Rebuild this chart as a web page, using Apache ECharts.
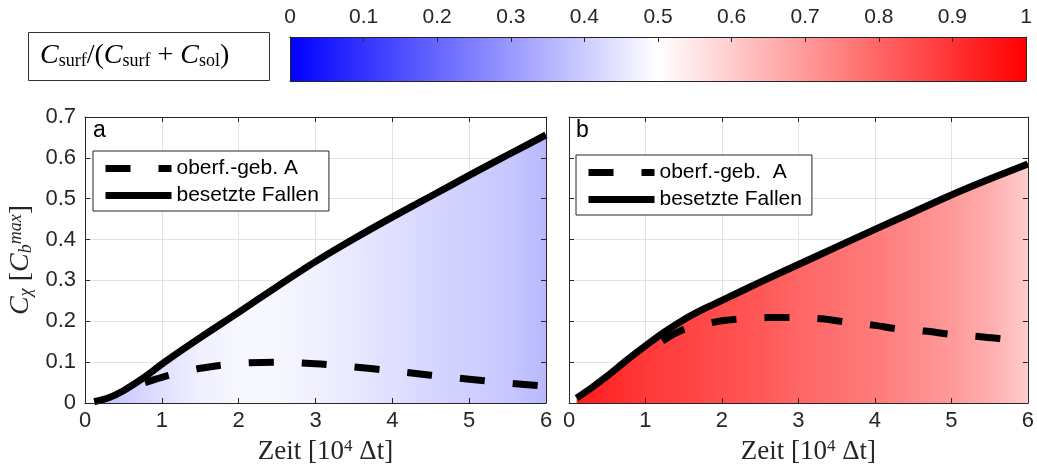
<!DOCTYPE html>
<html>
<head>
<meta charset="utf-8">
<script src="https://cdn.jsdelivr.net/npm/echarts@6/dist/echarts.min.js"></script>
<style>
  html, body { margin: 0; padding: 0; background: #fff; }
  #chart { width: 1037px; height: 470px; }
</style>
</head>
<body>
<div id="chart"></div>
<script>
// ---- data -------------------------------------------------------------
// Panel a: concentrations over time [10^4 Δt]
const aTrapped = [[0.12,0.003],[0.3,0.012],[0.5,0.03],[0.75,0.06],[1.0,0.095],[1.25,0.128],[1.5,0.16],[1.75,0.191],[2.0,0.222],[2.5,0.285],[3.0,0.346],[3.5,0.402],[4.0,0.455],[4.5,0.506],[5.0,0.557],[5.5,0.607],[6.0,0.656]];
const aSurface = [[0.78,0.05],[1.0,0.063],[1.25,0.075],[1.5,0.085],[1.75,0.092],[2.0,0.097],[2.5,0.1],[3.0,0.096],[3.5,0.088],[4.0,0.079],[4.5,0.068],[5.0,0.058],[5.5,0.049],[6.0,0.041]];
// Panel b
const bTrapped = [[0.1,0.012],[0.3,0.038],[0.5,0.066],[0.75,0.104],[1.0,0.14],[1.25,0.174],[1.5,0.204],[1.75,0.229],[2.0,0.251],[2.5,0.296],[3.0,0.339],[3.5,0.382],[4.0,0.425],[4.5,0.467],[5.0,0.509],[5.5,0.548],[6.0,0.585]];
const bSurface = [[1.22,0.152],[1.5,0.18],[1.9,0.198],[2.2,0.205],[2.6,0.209],[2.9,0.209],[3.3,0.206],[3.6,0.199],[4.0,0.19],[4.3,0.181],[4.65,0.176],[5.0,0.168],[5.35,0.163],[5.7,0.156],[6.0,0.152]];
// Surface fraction C_surf/(C_surf + C_sol) along time, used to colour the filled area
const ratioX = [0.1,0.5,1,1.5,2,2.5,3,3.5,4,4.5,5,5.5,6];
const aRatio = [0.36,0.40,0.44,0.47,0.485,0.485,0.47,0.455,0.44,0.42,0.405,0.39,0.36];
const bRatio = [0.95,0.92,0.89,0.87,0.85,0.83,0.80,0.78,0.76,0.73,0.70,0.66,0.60];
// Colour bar range and colour stops (blue - white - red)
const colorbarRange = [[0, 1]];
const colorbarStops = [0, 0.5, 1];
const seriesNamesA = ['oberf.-geb. A', 'besetzte Fallen'];
const seriesNamesB = ['oberf.-geb.  A', 'besetzte Fallen'];

// ---- styling helpers ---------------------------------------------------
const SANS = 'Liberation Sans, Arial, Helvetica, sans-serif';
const SERIF = 'Liberation Serif, DejaVu Serif, Times New Roman, serif';
const AXIS = '#262626';
const GRIDC = '#e2e2e2';

function bwr(r) {
  r = Math.max(0, Math.min(1, r));
  if (r <= 0.5) {
    const c = Math.round(510 * r);
    return 'rgb(' + c + ',' + c + ',255)';
  }
  const c = Math.round(510 * (1 - r));
  return 'rgb(255,' + c + ',' + c + ')';
}

function areaGradient(line, xs, rs) {
  const x0 = line[0][0], x1 = line[line.length - 1][0];
  const stops = xs.map((x, i) => ({
    offset: Math.max(0, Math.min(1, (x - x0) / (x1 - x0))),
    color: bwr(rs[i])
  }));
  return new echarts.graphic.LinearGradient(0, 0, 1, 0, stops);
}

const tickLabel = { fontSize: 22, color: AXIS, fontFamily: SANS };
const boxLine = { show: true, onZero: false, lineStyle: { color: AXIS, width: 1 } };
const inTick = { show: true, inside: true, length: 5, lineStyle: { color: AXIS, width: 1 } };

const xNameRich = {
  n: { fontFamily: SERIF, fontSize: 27, color: AXIS },
  sup: { fontFamily: SERIF, fontSize: 17, color: AXIS, verticalAlign: 'top', padding: [0, 0, 10, 0] }
};

function xAxesFor(gi) {
  return [
    { gridIndex: gi, type: 'value', min: 0, max: 6, interval: 1, position: 'bottom', z: 5,
      axisLine: boxLine, axisTick: inTick,
      axisLabel: Object.assign({ margin: 7 }, tickLabel),
      splitLine: { show: false },
      name: '{n|Zeit [10}{sup|4}{n| Δt]}', nameLocation: 'middle', nameGap: 35,
      nameTextStyle: { rich: xNameRich, padding: [0, 0, 0, 20] } },
    { gridIndex: gi, type: 'value', min: 0, max: 6, interval: 1, position: 'top', z: 0,
      axisLine: boxLine, axisTick: inTick, axisLabel: { show: false },
      splitLine: { show: true, lineStyle: { color: GRIDC, width: 1 } } }
  ];
}

function yAxesFor(gi, labels) {
  const left = { gridIndex: gi, type: 'value', min: 0, max: 0.7, interval: 0.1, position: 'left', z: 5,
    axisLine: boxLine, axisTick: inTick,
    axisLabel: Object.assign({ show: labels, margin: 9 }, tickLabel),
    splitLine: { show: false } };
  if (labels) {
    left.name = '{i|C}{s|χ}{n| [}{i|C}{s|b}{p|max}{n|]}';
    left.nameLocation = 'middle';
    left.nameGap = 50;
    left.nameRotate = 90;
    left.nameTextStyle = {
      rich: {
        i: { fontFamily: SERIF, fontStyle: 'italic', fontSize: 28, color: AXIS },
        n: { fontFamily: SERIF, fontSize: 28, color: AXIS },
        s: { fontFamily: SERIF, fontStyle: 'italic', fontSize: 18, color: AXIS, verticalAlign: 'bottom', padding: [10, 0, 0, 0] },
        p: { fontFamily: SERIF, fontStyle: 'italic', fontSize: 18, color: AXIS, verticalAlign: 'top', padding: [0, 0, 10, 0] }
      }
    };
  }
  return [
    left,
    { gridIndex: gi, type: 'value', min: 0, max: 0.7, interval: 0.1, position: 'right', z: 5,
      axisLine: boxLine, axisTick: inTick, axisLabel: { show: false }, splitLine: { show: false } },
    { gridIndex: gi, type: 'value', min: 0, max: 0.7, interval: 0.1, position: 'left', z: 0,
      axisLine: { show: false }, axisTick: { show: false }, axisLabel: { show: false },
      splitLine: { show: true, lineStyle: { color: GRIDC, width: 1 } } }
  ];
}

function legendFor(left, top, names) {
  return {
    data: names, left: left, top: top, orient: 'vertical',
    selectedMode: false,
    backgroundColor: '#fff', borderColor: AXIS, borderWidth: 1,
    padding: [7, 10, 5, 9], itemGap: 6,
    itemWidth: 66, itemHeight: 2,
    itemStyle: { color: 'rgba(0,0,0,0)', borderColor: 'rgba(0,0,0,0)', borderWidth: 0 },
    lineStyle: { width: 7 },
    textStyle: { fontSize: 21, color: '#000', fontFamily: SANS }
  };
}

const dashed = { color: '#000', width: 7, type: [25, 28], cap: 'butt', join: 'round' };
const solid = { color: '#000', width: 7, type: 'solid', cap: 'butt', join: 'round' };

const xA = xAxesFor(0), xB = xAxesFor(1);
const yA = yAxesFor(0, true), yB = yAxesFor(1, false);

const cbStops = colorbarStops.map(v => ({ offset: v, color: bwr(v) }));

const option = {
  animation: false,
  backgroundColor: '#fff',
  title: [
    { text: 'a', left: 93, top: 119, padding: 0, textStyle: { fontSize: 23, fontWeight: 'normal', fontFamily: SANS, color: '#000' } },
    { text: 'b', left: 576, top: 119, padding: 0, textStyle: { fontSize: 23, fontWeight: 'normal', fontFamily: SANS, color: '#000' } }
  ],
  grid: [
    { left: 85, top: 117, width: 461, height: 287 },
    { left: 569, top: 117, width: 460, height: 287 },
    { left: 290, top: 37, width: 736, height: 44 }
  ],
  xAxis: [
    xA[0], xA[1], xB[0], xB[1],
    { gridIndex: 2, type: 'value', min: 0, max: 1, interval: 0.1, position: 'top', z: 5,
      axisLine: boxLine, axisTick: inTick,
      axisLabel: { show: true, margin: 9, fontSize: 21, color: AXIS, fontFamily: SANS },
      splitLine: { show: false } },
    { gridIndex: 2, type: 'value', min: 0, max: 1, position: 'bottom', z: 5,
      axisLine: boxLine, axisTick: { show: false }, axisLabel: { show: false }, splitLine: { show: false } }
  ],
  yAxis: [
    yA[0], yA[1], yA[2], yB[0], yB[1], yB[2],
    { gridIndex: 2, type: 'value', min: 0, max: 1, position: 'left', z: 5,
      axisLine: boxLine, axisTick: { show: false }, axisLabel: { show: false }, splitLine: { show: false } },
    { gridIndex: 2, type: 'value', min: 0, max: 1, position: 'right', z: 5,
      axisLine: boxLine, axisTick: { show: false }, axisLabel: { show: false }, splitLine: { show: false } }
  ],
  legend: [
    legendFor(93, 151, seriesNamesA),
    legendFor(576, 155, seriesNamesB)
  ],
  graphic: [
    { type: 'rect', z: 10, shape: { x: 28.5, y: 32.5, width: 241, height: 48 },
      style: { fill: '#fff', stroke: '#333', lineWidth: 1 } },
    { type: 'text', z: 11, x: 40, y: 56,
      style: {
        text: '{i|C}{s|surf}{n|/(}{i|C}{s|surf}{n| + }{i|C}{s|sol}{n|)}',
        verticalAlign: 'middle',
        rich: {
          i: { fontFamily: SERIF, fontStyle: 'italic', fontSize: 28, fill: '#000' },
          n: { fontFamily: SERIF, fontSize: 28, fill: '#000' },
          s: { fontFamily: SERIF, fontSize: 18, fill: '#000', verticalAlign: 'bottom', padding: [10, 0, 0, 0] }
        }
      } }
  ],
  series: [
    { name: seriesNamesA[1], type: 'line', xAxisIndex: 0, yAxisIndex: 0, z: 3,
      data: aTrapped, symbol: 'none', smooth: 0.3, lineStyle: solid,
      areaStyle: { color: areaGradient(aTrapped, ratioX, aRatio), opacity: 1 } },
    { name: seriesNamesA[0], type: 'line', xAxisIndex: 0, yAxisIndex: 0, z: 4,
      data: aSurface, symbol: 'none', smooth: 0.3, lineStyle: dashed },
    { name: seriesNamesB[1], type: 'line', xAxisIndex: 2, yAxisIndex: 3, z: 3,
      data: bTrapped, symbol: 'none', smooth: 0.3, lineStyle: solid,
      areaStyle: { color: areaGradient(bTrapped, ratioX, bRatio), opacity: 1 } },
    { name: seriesNamesB[0], type: 'line', xAxisIndex: 2, yAxisIndex: 3, z: 4,
      data: bSurface, symbol: 'none', smooth: 0.3, lineStyle: dashed },
    { type: 'custom', xAxisIndex: 4, yAxisIndex: 6, z: 1, silent: true,
      data: colorbarRange,
      renderItem: function (params, api) {
        const p0 = api.coord([api.value(0), 0]);
        const p1 = api.coord([api.value(1), 1]);
        return {
          type: 'rect',
          shape: { x: p0[0], y: p1[1], width: p1[0] - p0[0], height: p0[1] - p1[1] },
          style: { fill: new echarts.graphic.LinearGradient(0, 0, 1, 0, cbStops) }
        };
      } }
  ]
};

const chart = echarts.init(document.getElementById('chart'), null, { renderer: 'canvas' });
chart.setOption(option);
</script>
</body>
</html>
